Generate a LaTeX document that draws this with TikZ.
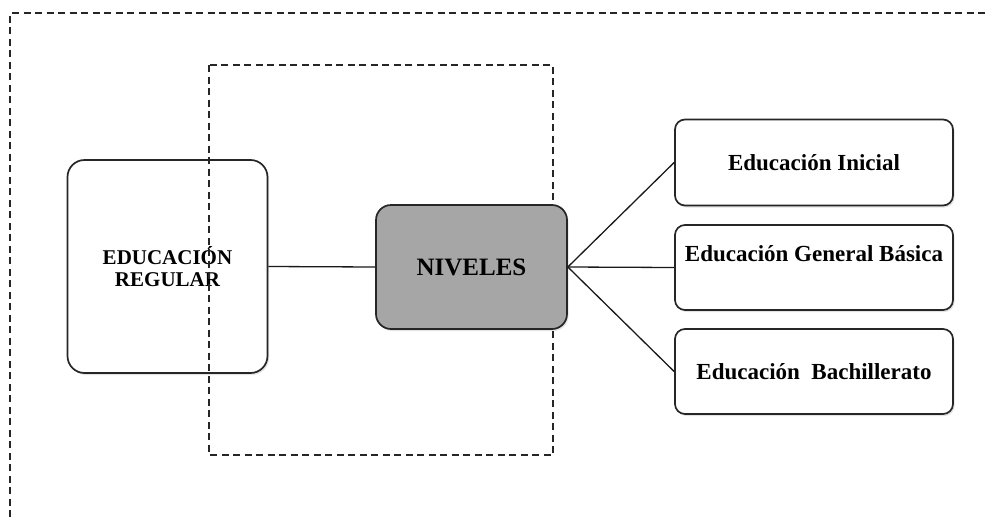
\documentclass[tikz,border=0pt]{standalone}
\usepackage{fontspec}
\setmainfont{Liberation Serif}
\usetikzlibrary{shadows}
\begin{document}
\begin{tikzpicture}[x=1pt,y=-1pt,
  frame/.style={draw=black!85, line width=1.6pt, dash pattern=on 7pt off 4.5pt},
  box/.style={draw=black!85, line width=1.7pt, rounded corners=#1, fill=white,
    drop shadow={shadow xshift=1.5pt, shadow yshift=-2pt, opacity=0.22}},
  box/.default=10pt,
  link/.style={draw=black!90, line width=1.3pt},
  lbl/.style={font=\bfseries\fontsize{23}{26}\selectfont}]
  \useasboundingbox (0,0) rectangle (986,517);
  % open outer frame
  \draw[frame] (10,517) -- (10,13) -- (986,13);
  % left block
  \node[box=17pt, minimum width=200pt, minimum height=213pt, inner sep=0pt,
        align=center, font=\bfseries\fontsize{21}{22}\selectfont] (reg) at (167.5,266.5)
        {EDUCACIÓN\\REGULAR};
  % dashed grouping rectangle
  \draw[frame] (209,65) rectangle (553,455);
  % central block
  \node[box=15pt, fill=black!35, minimum width=191pt, minimum height=124pt, inner sep=0pt,
        font=\bfseries\fontsize{25}{28}\selectfont] (niv) at (471.5,267) {NIVELES};
  % levels
  \node[box, minimum width=278pt, minimum height=86pt, inner sep=0pt, lbl] (ini) at (814,162.5) {Educación Inicial};
  \node[box, minimum width=278pt, minimum height=85pt, inner sep=0pt, lbl] (gen) at (814,267.5) {\raisebox{6pt}[0pt][0pt]{Educación General Básica}};
  \node[box, minimum width=278pt, minimum height=85pt, inner sep=0pt, lbl] (bac) at (814,371.5) {Educación\ \ Bachillerato};
  % connectors
  \draw[link] (reg.east) -- (niv.west);
  \draw[link] (niv.east) -- (ini.west);
  \draw[link] (niv.east) -- (gen.west);
  \draw[link] (niv.east) -- (bac.west);
\end{tikzpicture}
\end{document}
